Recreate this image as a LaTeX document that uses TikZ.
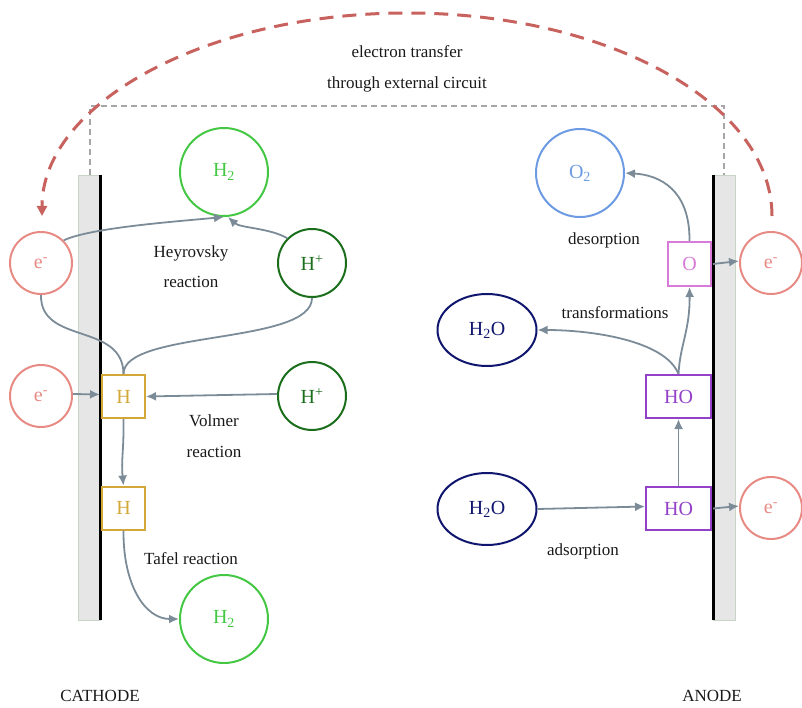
\documentclass[tikz,border=0pt]{standalone}
\usepackage{fontspec}
\setmainfont{Liberation Serif}
\usetikzlibrary{arrows.meta,shapes.geometric}
\definecolor{salmon}{HTML}{E88A84}
\definecolor{redarc}{HTML}{C8625E}
\definecolor{hgreen}{HTML}{44C844}
\definecolor{dgreen}{HTML}{1B6E1B}
\definecolor{gold}{HTML}{D4A838}
\definecolor{oblue}{HTML}{6D9BE3}
\definecolor{opink}{HTML}{D87AD8}
\definecolor{hopurple}{HTML}{9341C9}
\definecolor{navy}{HTML}{10166E}
\definecolor{arrgray}{HTML}{7B8C98}
\definecolor{barfill}{HTML}{E6E6E6}
\definecolor{baredge}{HTML}{C8D4C8}
\tikzset{
  lbl/.style={font=\fontsize{17}{20}\selectfont, text=black!90},
  big/.style={font=\fontsize{20}{23}\selectfont},
  elec/.style={circle, draw=salmon, line width=2pt, minimum size=62pt, inner sep=0pt, big, text=salmon},
  hplus/.style={circle, draw=dgreen, line width=2pt, minimum size=68pt, inner sep=0pt, big, text=dgreen},
  htwo/.style={circle, draw=hgreen, line width=2pt, minimum size=88pt, inner sep=0pt, big, text=hgreen},
  otwo/.style={circle, draw=oblue, line width=2pt, minimum size=88pt, inner sep=0pt, big, text=oblue},
  water/.style={ellipse, draw=navy, line width=2pt, minimum width=99pt, minimum height=72pt, inner sep=0pt, big, text=navy},
  hbox/.style={rectangle, draw=gold, fill=white, line width=2pt, minimum width=43pt, minimum height=43pt, inner sep=0pt, big, text=gold},
  obox/.style={rectangle, draw=opink, fill=white, line width=2pt, minimum width=43pt, minimum height=44pt, inner sep=0pt, big, text=opink},
  hobox/.style={rectangle, draw=hopurple, fill=white, line width=2pt, minimum width=65pt, minimum height=43pt, inner sep=0pt, big, text=hopurple},
  arr/.style={draw=arrgray, line width=1.8pt, -{Latex[length=10pt,width=9pt]}},
  conn/.style={draw=arrgray, line width=1.8pt},
  bar/.style={fill=barfill, draw=baredge, line width=0.8pt},
}
\begin{document}
\begin{tikzpicture}[x=1pt,y=-1pt]
\useasboundingbox (0,0) rectangle (802,708);
% external circuit wire
\draw[gray!70, line width=1.6pt, dash pattern=on 6pt off 4pt] (90,175) -- (90,106) -- (724,106) -- (724,175);
% electrodes
\draw[bar] (78,175) rectangle (100,620);
\draw[black, line width=3pt] (100,175) -- (100,620);
\draw[bar] (713,175) rectangle (735,620);
\draw[black, line width=3pt] (713,175) -- (713,620);
% nodes
\node[elec] (eL1) at (41,263) {e\textsuperscript{-}};
\node[elec] (eL2) at (41,396) {e\textsuperscript{-}};
\node[htwo] (H2a) at (224,172) {H\textsubscript{2}};
\node[htwo] (H2b) at (224,619) {H\textsubscript{2}};
\node[hplus] (Hp1) at (312,263) {H\textsuperscript{+}};
\node[hplus] (Hp2) at (312,396) {H\textsuperscript{+}};
\node[hbox] (Ha) at (123.5,396.5) {H};
\node[hbox] (Hb) at (123.5,508) {H};
\node[otwo] (O2) at (580,173) {O\textsubscript{2}};
\node[obox] (O) at (689.5,264) {O};
\node[elec] (eR1) at (771,263) {e\textsuperscript{-}};
\node[elec] (eR2) at (771,508) {e\textsuperscript{-}};
\node[water] (W1) at (487,330) {H\textsubscript{2}O};
\node[water] (W2) at (487,509) {H\textsubscript{2}O};
\node[hobox] (HOa) at (678.5,396.5) {HO};
\node[hobox] (HOb) at (678.5,508.5) {HO};
% labels
\node[lbl] (t1) at (407,52) {electron transfer};
\node[lbl] (t2) at (407,84) {through external circuit};
\node[lbl] (t3) at (191,253) {Heyrovsky};
\node[lbl] (t4) at (191,282) {reaction};
\node[lbl] (t5) at (214,421) {Volmer};
\node[lbl] (t6) at (214,452) {reaction};
\node[lbl] (t7) at (191,559) {Tafel reaction};
\node[lbl] (t8) at (604,240) {desorption};
\node[lbl] (t9) at (615,313) {transformations};
\node[lbl] (t10) at (583,551) {adsorption};
\node[lbl] (cat) at (100,696) {CATHODE};
\node[lbl] (ano) at (712,696) {ANODE};
% red arc (external electron transfer)
\coordinate (arcS) at (772,216);
\draw[redarc, line width=3pt, dash pattern=on 14pt off 9pt, -{Triangle[length=10pt,width=10pt]}]
  (arcS) arc[start angle=0, end angle=-180, x radius=365, y radius=203];
% cathode connectors
\draw[arr] (eL1.north east) .. controls (90,228) and (170,222) .. (H2a.south);
\draw[arr] (Hp1.north west) .. controls (270,228) and (240,228) .. ([xshift=4pt]H2a.south);
\draw[conn] (eL1.south) .. controls (40,345) and (123,322) .. (Ha.north);
\draw[conn] (Ha.north) .. controls (123,330) and (312,345) .. (Hp1.south);
\draw[arr] ([yshift=2pt]eL2.east) -- ([yshift=2pt,xshift=-1pt]Ha.west);
\draw[arr] ([yshift=2pt]Hp2.west) -- (Ha.east);
\draw[arr] (Ha.south) .. controls (124,450) and (121,460) .. (Hb.north);
\draw[arr] (Hb.south) .. controls (123,585) and (145,619) .. (H2b.west);
% anode connectors
\draw[arr] (O.north) .. controls (690,190) and (660,175) .. (O2.east);
\draw[arr] ([xshift=1pt]O.east) -- ([yshift=2pt]eR1.west);
\draw[arr] (HOa.north) .. controls (665,340) and (590,330) .. (W1.east);
\draw[arr] (HOa.north) .. controls (680,345) and (690,330) .. (O.south);
\draw[arr] (W2.east) -- ([yshift=2pt]HOb.west);
\draw[arr] (HOb.north) -- (HOa.south);
\draw[arr] ([xshift=1pt]HOb.east) -- ([yshift=2pt]eR2.west);
\end{tikzpicture}
\end{document}
